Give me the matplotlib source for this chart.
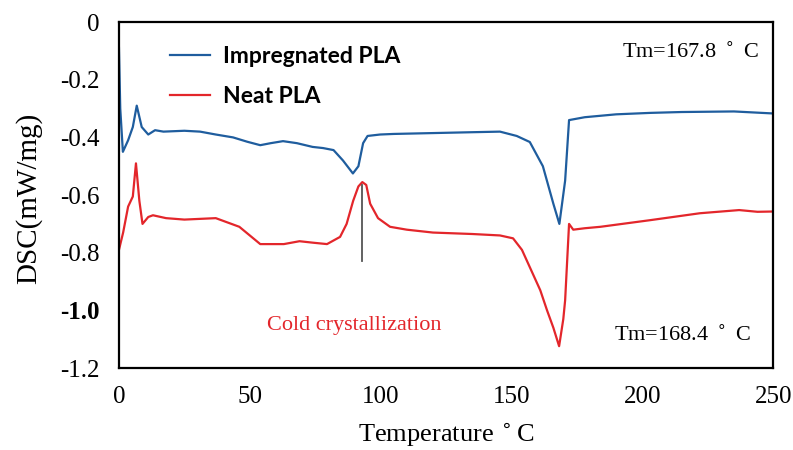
import matplotlib
matplotlib.use("Agg")
import matplotlib.pyplot as plt

# temperature (C) and heat flow (mW/mg)
blue_t = [0, 0.5, 1.5, 3.5, 5.3, 6.8, 8.7, 11.2, 13.8, 17, 25, 31, 37, 43.6, 49,
          54, 58, 62.7, 68, 74, 78, 82, 85.6, 89.4, 91.5, 93.3, 95, 99.8, 105,
          120, 135, 145.6, 152, 157, 162, 166, 168.3, 170.5, 172, 178, 184,
          190, 203, 215, 235, 250]
blue_v = [-0.09, -0.30, -0.45, -0.41, -0.364, -0.29, -0.364, -0.39, -0.375,
          -0.38, -0.377, -0.38, -0.39, -0.40, -0.415, -0.427, -0.42, -0.413,
          -0.42, -0.433, -0.437, -0.444, -0.48, -0.525, -0.50, -0.42, -0.395,
          -0.39, -0.388, -0.385, -0.382, -0.38, -0.395, -0.416, -0.50, -0.63,
          -0.70, -0.55, -0.34, -0.33, -0.325, -0.32, -0.315, -0.312, -0.31,
          -0.317]

red_t = [0, 1.6, 3.5, 5.3, 6.5, 7.8, 9, 11.2, 13, 18, 25, 37, 46, 54, 63, 69,
         74, 79.5, 84.5, 87, 89.5, 91.5, 93, 94.5, 96, 99, 103.6, 110, 120, 135,
         145.6, 150.6, 154, 158, 161, 163.6, 166, 168.2, 169.8, 170.5, 172,
         173.6, 178, 184, 203, 222, 237, 244, 250]
red_v = [-0.79, -0.73, -0.64, -0.605, -0.49, -0.62, -0.70, -0.676, -0.67,
         -0.68, -0.685, -0.68, -0.71, -0.77, -0.77, -0.76, -0.765, -0.77,
         -0.745, -0.70, -0.62, -0.57, -0.555, -0.565, -0.63, -0.68, -0.71,
         -0.72, -0.73, -0.735, -0.74, -0.75, -0.79, -0.87, -0.93, -1.0, -1.06,
         -1.124, -1.03, -0.965, -0.70, -0.72, -0.715, -0.71, -0.687, -0.663,
         -0.652, -0.658, -0.657]

x_ticks = [0, 50, 100, 150, 200, 250]
y_ticks = [0, -0.2, -0.4, -0.6, -0.8, -1.0, -1.2]
y_labels = ["0", "-0.2", "-0.4", "-0.6", "-0.8", "-1.0", "-1.2"]

serif = "Liberation Serif"

fig = plt.figure(figsize=(7.93, 4.5), dpi=100)
ax = fig.add_axes([0.150, 0.182, 0.825, 0.769])

ax.plot(blue_t, blue_v, color="#1f5d9e", lw=1.6, label="Impregnated PLA")
ax.plot(red_t, red_v, color="#e3262b", lw=1.6, label="Neat PLA")

ax.set_xlim(0, 250)
ax.set_ylim(-1.2, 0)
ax.set_xticks(x_ticks)
ax.set_xticklabels([str(t) for t in x_ticks], fontfamily=serif, fontsize=18)
ax.set_yticks(y_ticks)
ax.set_yticklabels(y_labels, fontfamily=serif, fontsize=18)
ax.get_yticklabels()[5].set_fontweight("bold")
ax.tick_params(axis="both", length=0)
ax.tick_params(axis="y", pad=14)
ax.tick_params(axis="x", pad=13)
for s in ax.spines.values():
    s.set_linewidth(1.6)

ax.set_xlabel("Temperature$\\,^\\circ$C", fontfamily=serif, fontsize=19, labelpad=9)
ax.set_ylabel("DSC(mW/mg)", fontfamily=serif, fontsize=21)
ax.yaxis.set_label_coords(-0.118, 0.49)

leg = ax.legend(loc="upper left", bbox_to_anchor=(0.078, 0.93), frameon=False,
                borderpad=0, borderaxespad=0,
                handlelength=1.75, handletextpad=0.55, labelspacing=0.8,
                prop={"family": "Lato", "weight": "bold", "size": 16.5})

ax.text(192.3, -0.104, "Tm=167.8 $^\\circ$ C", fontfamily=serif, fontsize=16,
        va="center", ha="left")
ax.text(189, -1.086, "Tm=168.4 $^\\circ$ C", fontfamily=serif, fontsize=16,
        va="center", ha="left")
ax.text(90, -1.053, "Cold crystallization", fontfamily=serif, fontsize=16,
        color="#e3262b", va="center", ha="center")
ax.plot([93, 93], [-0.565, -0.83], color="#555555", lw=1.3)

fig.savefig("out.png", dpi=100)
